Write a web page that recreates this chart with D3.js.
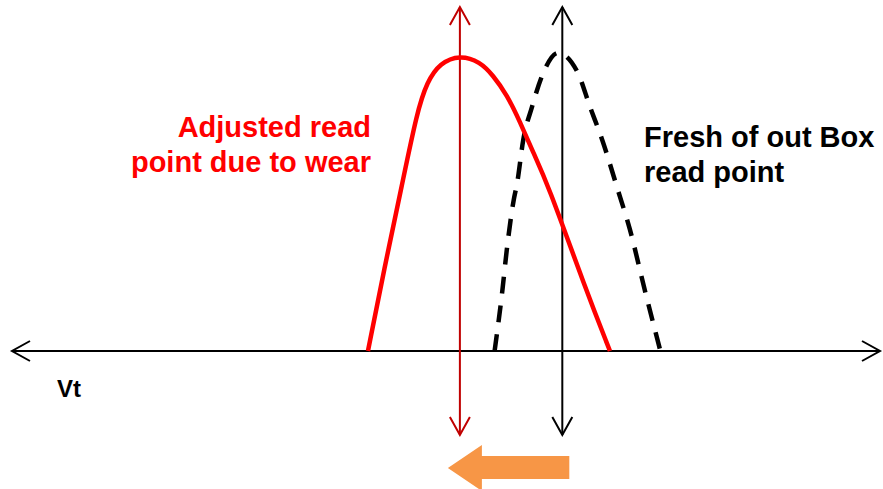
<!DOCTYPE html>
<html>
<head>
<meta charset="utf-8">
<script src="https://cdnjs.cloudflare.com/ajax/libs/d3/7.8.5/d3.min.js"></script>
<style>
  body { margin: 0; background: #fff; }
  text { font-family: "Liberation Sans", Arial, sans-serif; font-weight: bold; }
</style>
</head>
<body>
<div class="canvas"></div>
<script>
var width = 883,
    height = 489;

// Vt positions (arbitrary units along the axis) and relative cell counts
var wornVt = [41.01, 42.86, 44.93, 46.66, 47.81, 49.31, 51.61, 53.92, 55.41, 57.03, 58.53, 60.02, 61.64, 66.13, 68.89];
var wornCount = [0, 0.274, 0.561, 0.807, 0.909, 0.973, 1.0, 0.977, 0.932, 0.865, 0.774, 0.672, 0.571, 0.206, 0];

var freshVt = [55.6, 56.5, 57.0, 57.8, 58.2, 58.9, 59.9, 61.2, 62.9, 65.2, 66.6, 68.0, 69.8, 71.2, 72.9, 74.7];
var freshCount = [0, 0.206, 0.341, 0.51, 0.568, 0.713, 0.824, 0.939, 1.007, 0.939, 0.824, 0.713, 0.544, 0.409, 0.206, 0];

// read points
var readPoints = [51.6, 63.4];
var readColors = ["#c00000", "#000000"];

var axisExtent = [0, 100];
var lineExtent = [-0.284, 1.162];

var labelAdjusted = ["Adjusted read", "point due to wear"];
var labelFresh = ["Fresh of out Box", "read point"];
var labelAxis = "Vt";

var svg = d3.select(".canvas").append("svg")
    .attr("width", width)
    .attr("height", height);

var x = d3.scaleLinear().domain(axisExtent).range([12, 880]);
var y = d3.scaleLinear().domain([0, 1]).range([351, 55]);

// open chevron arrow head, pointing in direction (dx, dy)
function chevron(g, tx, ty, dx, dy, color) {
    var len = 18, half = 10;
    var px = -dy, py = dx;
    var bx = tx - dx * len, by = ty - dy * len;
    g.append("path")
        .attr("d", "M" + (bx + px * half) + "," + (by + py * half) +
            "L" + tx + "," + ty +
            "L" + (bx - px * half) + "," + (by - py * half))
        .attr("fill", "none")
        .attr("stroke", color)
        .attr("stroke-width", 2);
}

var group = svg.append("g");

// horizontal Vt axis
group.append("line")
    .attr("x1", x(axisExtent[0])).attr("x2", x(axisExtent[1]))
    .attr("y1", y(0)).attr("y2", y(0))
    .attr("stroke", "#000").attr("stroke-width", 2);
chevron(group, x(axisExtent[0]), y(0), -1, 0, "#000");
chevron(group, x(axisExtent[1]), y(0), 1, 0, "#000");

// vertical read point lines
readPoints.forEach(function(v, i) {
    group.append("line")
        .attr("x1", x(v)).attr("x2", x(v))
        .attr("y1", y(lineExtent[0])).attr("y2", y(lineExtent[1]))
        .attr("stroke", readColors[i]).attr("stroke-width", 2);
    chevron(group, x(v), y(lineExtent[1]), 0, -1, readColors[i]);
    chevron(group, x(v), y(lineExtent[0]), 0, 1, readColors[i]);
});

var line = d3.line()
    .x(function(d) { return x(d[0]); })
    .y(function(d) { return y(d[1]); })
    .curve(d3.curveMonotoneX);

var smooth = d3.line()
    .x(function(d) { return x(d[0]); })
    .y(function(d) { return y(d[1]); })
    .curve(d3.curveBasis);

// fresh distribution (dashed)
group.append("path")
    .datum(d3.zip(freshVt, freshCount))
    .attr("d", line)
    .attr("fill", "none")
    .attr("stroke", "#000")
    .attr("stroke-width", 4.5)
    .attr("stroke-dasharray", "17,12");

// worn distribution
group.append("path")
    .datum(d3.zip(wornVt, wornCount))
    .attr("d", smooth)
    .attr("fill", "none")
    .attr("stroke", "#ff0000")
    .attr("stroke-width", 4.5);

// shift arrow
var tipX = x(readPoints[0]) - 12,
    tailX = x(readPoints[1]) + 7,
    cy = 468;
group.append("path")
    .attr("d", "M" + tipX + "," + cy +
        "L" + (tipX + 34) + "," + (cy - 23) +
        "L" + (tipX + 34) + "," + (cy - 12) +
        "L" + tailX + "," + (cy - 12) +
        "L" + tailX + "," + (cy + 11) +
        "L" + (tipX + 34) + "," + (cy + 11) +
        "L" + (tipX + 34) + "," + (cy + 23) + "Z")
    .attr("fill", "#f79646");

// labels
svg.selectAll(".adj")
    .data(labelAdjusted)
    .enter().append("text")
    .attr("class", "adj")
    .attr("x", 371)
    .attr("y", function(d, i) { return 137 + i * 35; })
    .attr("text-anchor", "end")
    .attr("fill", "#ff0000")
    .style("font-size", "29px")
    .text(function(d) { return d; });

svg.selectAll(".fresh")
    .data(labelFresh)
    .enter().append("text")
    .attr("class", "fresh")
    .attr("x", 644)
    .attr("y", function(d, i) { return 147 + i * 35; })
    .attr("fill", "#000")
    .style("font-size", "29px")
    .text(function(d) { return d; });

svg.append("text")
    .attr("x", 57)
    .attr("y", 397)
    .attr("fill", "#000")
    .style("font-size", "24px")
    .text(labelAxis);
</script>
</body>
</html>
